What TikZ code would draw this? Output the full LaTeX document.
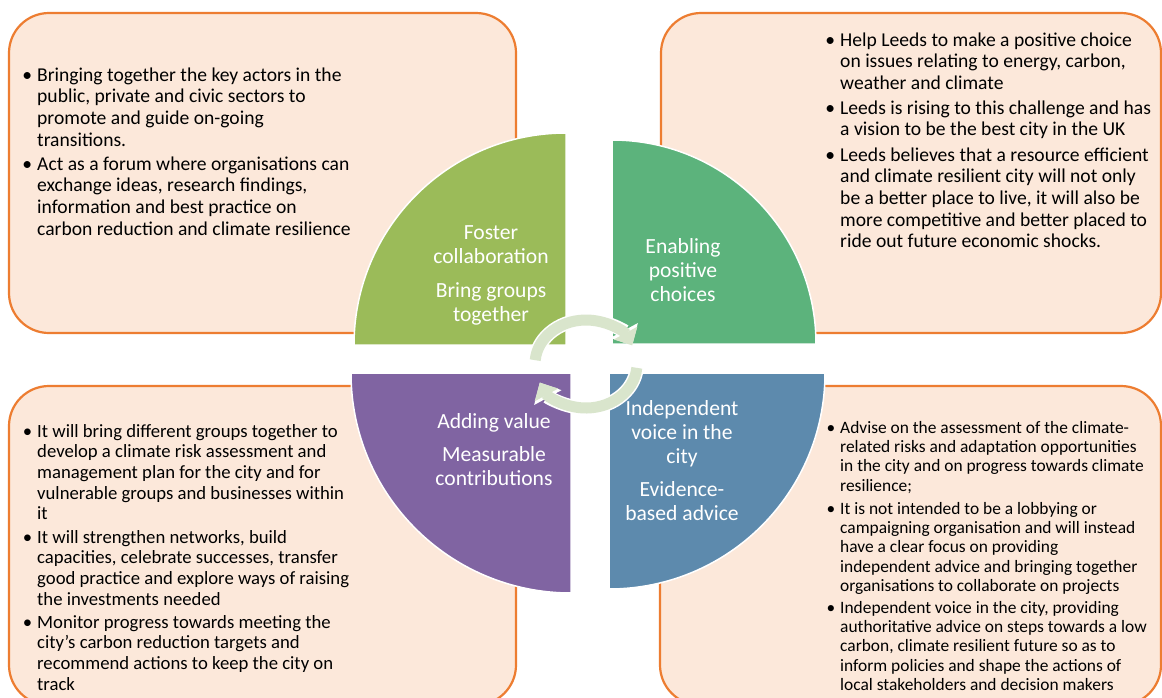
\documentclass[tikz,border=0pt]{standalone}
\usepackage{fontspec}
\setmainfont{Carlito}
\usetikzlibrary{arrows.meta}
\definecolor{boxfill}{HTML}{FCE8DA}
\definecolor{boxline}{HTML}{ED7D31}
\definecolor{qolive}{HTML}{9BBB59}
\definecolor{qgreen}{HTML}{5CB37C}
\definecolor{qpurple}{HTML}{8064A2}
\definecolor{qblue}{HTML}{5D8AAD}
\definecolor{ringc}{HTML}{D9E5CC}
\newcommand\mybul{\llap{•\hspace{5pt}}}
\begin{document}
\begin{tikzpicture}[x=1pt,y=-1pt,
  box/.style={draw=boxline, line width=2.2pt, fill=boxfill, rounded corners=40pt},
  quad/.style={draw=white, line width=1.5pt},
  qlabel/.style={text=white, align=center, inner sep=0pt, anchor=north, font=\fontsize{21.6}{24}\selectfont},
  btA/.style={align=left, inner sep=0pt, anchor=north west, font=\fontsize{19.6}{21.7}\selectfont},
  btB/.style={align=left, inner sep=0pt, anchor=north west, font=\fontsize{18.7}{20.6}\selectfont},
  btC/.style={align=left, inner sep=0pt, anchor=north west, font=\fontsize{17.4}{19.3}\selectfont},
  ringw/.style={draw=white, line width=14pt, -{Triangle[width=30pt,length=17pt]}},
  ringa/.style={draw=ringc, line width=11pt, -{Triangle[width=26pt,length=14pt]}}
]
\clip (0,0) rectangle (1162,697);
\path[use as bounding box] (0,0) rectangle (1162,697);
\fill[white] (0,0) rectangle (1162,697);

% boxes
\draw[box] (9,13) rectangle (516,333);
\draw[box] (661,13) rectangle (1161,333);
\draw[box] (9,386) rectangle (516,705);
\draw[box] (660,386) rectangle (1161,705);

% quadrants
\coordinate (cTL) at (566,345);
\coordinate (cTR) at (612,344);
\coordinate (cBL) at (571,373);
\coordinate (cBR) at (609,373);
\filldraw[quad, fill=qolive] (cTL) -- ++(-212,0) arc[start angle=180, end angle=270, radius=212] -- cycle;
\filldraw[quad, fill=qgreen] (cTR) -- ++(0,-204) arc[start angle=270, end angle=360, radius=204] -- cycle;
\filldraw[quad, fill=qpurple] (cBL) -- ++(-220,0) arc[start angle=180, end angle=90, radius=220] -- cycle;
\filldraw[quad, fill=qblue] (cBR) -- ++(216,0) arc[start angle=0, end angle=90, radius=216] -- cycle;

% quadrant labels
\node[qlabel] (lTL) at (491,222.2) {\strut Foster\\collaboration\\[10pt]Bring groups\\together};
\node[qlabel] (lTR) at (683,236.2) {\strut Enabling\\positive\\choices};
\node[qlabel] (lBL) at (494,411.2) {\strut Adding value\\[9pt]Measurable\\contributions};
\node[qlabel] (lBR) at (682,398.2) {\strut Independent\\voice in the\\city\\[9pt]Evidence-\\based advice};

% circular arrows
\coordinate (rc) at (586,364);
\draw[ringw] ([shift={(185:51 and 44)}]rc) arc[start angle=185, end angle=335, x radius=51, y radius=44];
\draw[ringw] ([shift={(5:51 and 44)}]rc) arc[start angle=5, end angle=155, x radius=51, y radius=44];
\draw[ringa] ([shift={(185:51 and 44)}]rc) arc[start angle=185, end angle=335, x radius=51, y radius=44];
\draw[ringa] ([shift={(5:51 and 44)}]rc) arc[start angle=5, end angle=155, x radius=51, y radius=44];

% top-left text
\node[btA] (tl1) at (37,65.8) {\strut\mybul Bringing together the key actors in the\\public, private and civic sectors to\\promote and guide on-going\\transitions.};
\node[btA] (tl2) at (37,154.8) {\strut\mybul Act as a forum where organisations can\\exchange ideas, research findings,\\information and best practice on\\carbon reduction and climate resilience};

% top-right text
\node[btA] (tr1) at (840,30.8) {\strut\mybul Help Leeds to make a positive choice\\on issues relating to energy, carbon,\\weather and climate};
\node[btA] (tr2) at (840,98.8) {\strut\mybul Leeds is rising to this challenge and has\\a vision to be the best city in the UK};
\node[btA] (tr3) at (840,145.8) {\strut\mybul Leeds believes that a resource efficient\\and climate resilient city will not only\\be a better place to live, it will also be\\more competitive and better placed to\\ride out future economic shocks.};

% bottom-left text
\node[btB] (bl1) at (37,422.6) {\strut\mybul It will bring different groups together to\\develop a climate risk assessment and\\management plan for the city and for\\vulnerable groups and businesses within\\it};
\node[btB] (bl2) at (37,528.6) {\strut\mybul It will strengthen networks, build\\capacities, celebrate successes, transfer\\good practice and explore ways of raising\\the investments needed};
\node[btB] (bl3) at (37,613.6) {\strut\mybul Monitor progress towards meeting the\\city’s carbon reduction targets and\\recommend actions to keep the city on\\track};

% bottom-right text
\node[btC] (br1) at (840,419.5) {\strut\mybul Advise on the assessment of the climate-\\related risks and adaptation opportunities\\in the city and on progress towards climate\\resilience;};
\node[btC] (br2) at (840,500.5) {\strut\mybul It is not intended to be a lobbying or\\campaigning organisation and will instead\\have a clear focus on providing\\independent advice and bringing together\\organisations to collaborate on projects};
\node[btC] (br3) at (840,599.5) {\strut\mybul Independent voice in the city, providing\\authoritative advice on steps towards a low\\carbon, climate resilient future so as to\\inform policies and shape the actions of\\local stakeholders and decision makers};
\end{tikzpicture}
\end{document}
